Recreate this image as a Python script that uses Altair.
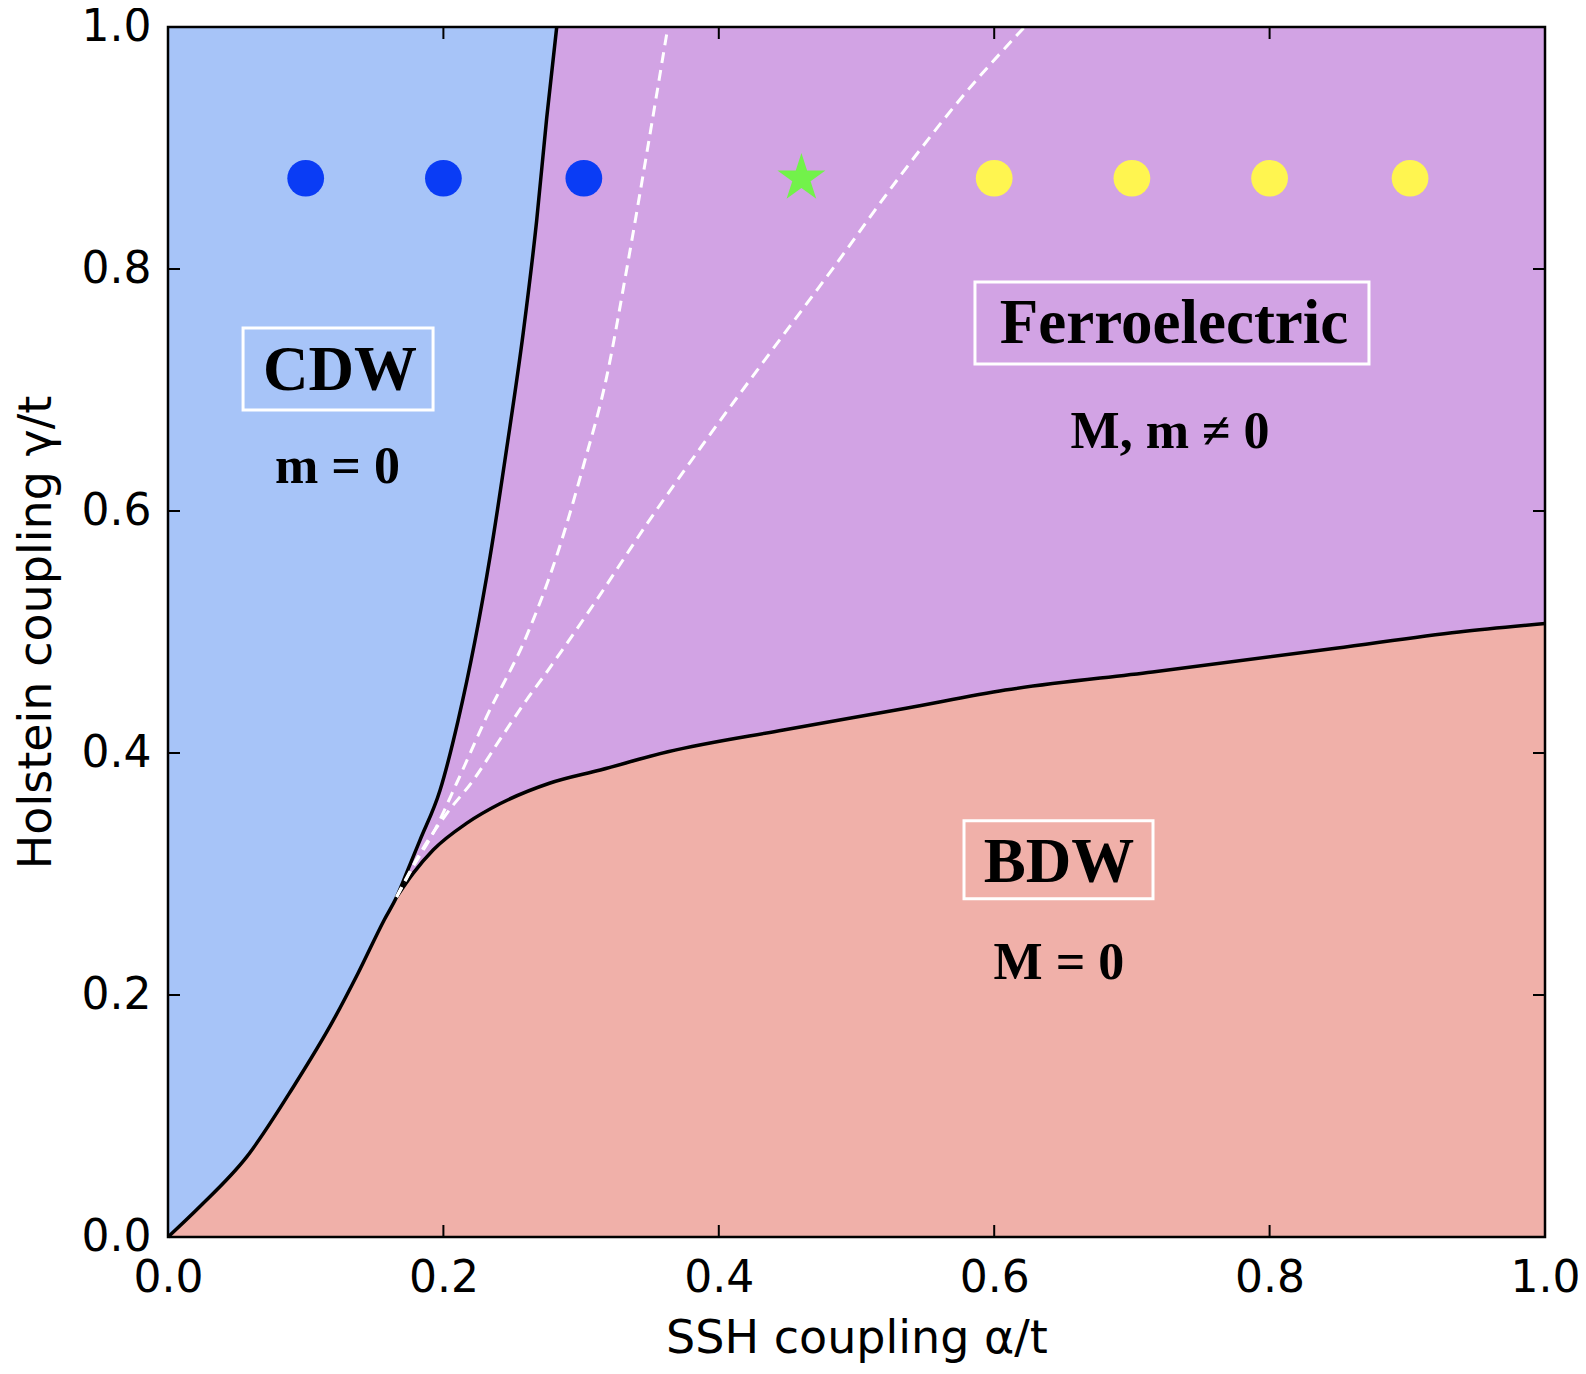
import altair as alt
import pandas as pd

# ---- phase boundaries ----
cdw_bdw_x = [0.0, 0.023, 0.057, 0.091, 0.120, 0.138, 0.157, 0.166]
cdw_bdw_y = [0.0, 0.025, 0.066, 0.124, 0.179, 0.218, 0.262, 0.281]

cdw_fe_x = [0.166, 0.174, 0.183, 0.1975, 0.2107, 0.234, 0.246, 0.258, 0.2677, 0.275, 0.2823]
cdw_fe_y = [0.281, 0.303, 0.328, 0.369, 0.427, 0.563, 0.652, 0.7475, 0.8397, 0.9246, 1.0]

bdw_fe_x = [0.166, 0.178, 0.1927, 0.217, 0.241, 0.277, 0.314, 0.363, 0.447, 0.536, 0.608, 0.715, 0.848, 0.9375, 1.0]
bdw_fe_y = [0.281, 0.3005, 0.320, 0.342, 0.358, 0.375, 0.386, 0.401, 0.419, 0.437, 0.452, 0.467, 0.4865, 0.500, 0.507]

dash1_x = [0.166, 0.178, 0.1927, 0.2096, 0.2314, 0.2605, 0.2823, 0.3016, 0.3186, 0.333, 0.3476, 0.363]
dash1_y = [0.281, 0.306, 0.334, 0.375, 0.430, 0.497, 0.563, 0.637, 0.711, 0.799, 0.895, 1.0]

dash2_x = [0.166, 0.183, 0.2024, 0.2218, 0.241, 0.2605, 0.272, 0.3089, 0.3476, 0.3863, 0.4348, 0.4832, 0.5316, 0.580, 0.622]
dash2_y = [0.281, 0.317, 0.350, 0.3777, 0.411, 0.444, 0.462, 0.5225, 0.589, 0.6516, 0.727, 0.801, 0.8767, 0.9467, 1.0]

# ---- simulation points ----
blue_x = [0.1, 0.2, 0.302]
yellow_x = [0.6, 0.7, 0.8, 0.902]
star_x = [0.46]
points_y = 0.875

ticks = [0.0, 0.2, 0.4, 0.6, 0.8, 1.0]
inner_ticks = [0.2, 0.4, 0.6, 0.8]

# ---- annotations ----
head_text = ["CDW", "Ferroelectric", "BDW"]
head_x = [0.1249, 0.7306, 0.647]
head_y = [0.700, 0.7386, 0.2934]
sub_text = ["m = 0", "M, m \u2260 0", "M = 0"]
sub_x = [0.1231, 0.7277, 0.647]
sub_y = [0.623, 0.6518, 0.2132]
box_x = [0.1235, 0.7291, 0.6467]
box_y = [0.7173, 0.7554, 0.3118]
box_w = [190, 394, 189]
box_h = [82, 82, 78]

W, H = 1377, 1210
C_BLUE = "#a7c4f8"
C_PURPLE = "#d2a3e4"
C_PINK = "#f0b0a9"

xs = alt.Scale(domain=[0, 1], nice=False, zero=False)
ys = alt.Scale(domain=[0, 1], nice=False, zero=False)

x_axis = alt.Axis(values=ticks, format=".1f", ticks=False, domain=False, grid=False,
                  labelFont="DejaVu Sans", labelFontSize=44, labelColor="black",
                  labelPadding=19, labelFlush=False, labelOverlap=False,
                  title="SSH coupling \u03b1/t", titleFont="DejaVu Sans", titleFontSize=46,
                  titleFontWeight="normal", titleColor="black", titlePadding=16)
y_axis = alt.Axis(values=ticks, format=".1f", ticks=False, domain=False, grid=False,
                  labelFont="DejaVu Sans", labelFontSize=44, labelColor="black",
                  labelPadding=17, labelFlush=False, labelOverlap=False,
                  title="Holstein coupling \u03b3/t", titleFont="DejaVu Sans", titleFontSize=46,
                  titleFontWeight="normal", titleColor="black", titlePadding=21)

X = lambda f: alt.X(f, type="quantitative", scale=xs, axis=x_axis)
Y = lambda f: alt.Y(f, type="quantitative", scale=ys, axis=y_axis)

left_df = pd.DataFrame({"x": cdw_bdw_x + cdw_fe_x[1:], "y": cdw_bdw_y + cdw_fe_y[1:]})
left_df["top"] = 1.0
lower_df = pd.DataFrame({"x": cdw_bdw_x + bdw_fe_x[1:], "y": cdw_bdw_y + bdw_fe_y[1:]})
lower_df["bot"] = 0.0

blue_area = alt.Chart(left_df).mark_area(color=C_BLUE, opacity=1, interpolate="monotone").encode(
    x=X("x"), y=Y("y"), y2="top")
pink_area = alt.Chart(lower_df).mark_area(color=C_PINK, opacity=1, interpolate="monotone").encode(
    x=X("x"), y=Y("y"), y2="bot")


def line_df(xv, yv):
    return pd.DataFrame({"x": xv, "y": yv, "i": list(range(len(xv)))})


black_left = alt.Chart(line_df(cdw_bdw_x + cdw_fe_x[1:], cdw_bdw_y + cdw_fe_y[1:])).mark_line(
    color="black", strokeWidth=3.5, interpolate="monotone").encode(x=X("x"), y=Y("y"), order="i:Q")
black_lower = alt.Chart(line_df(bdw_fe_x, bdw_fe_y)).mark_line(
    color="black", strokeWidth=3.5, interpolate="monotone").encode(x=X("x"), y=Y("y"), order="i:Q")
dash1 = alt.Chart(line_df(dash1_x, dash1_y)).mark_line(
    color="white", strokeWidth=3, strokeDash=[11, 7], interpolate="monotone").encode(
    x=X("x"), y=Y("y"), order="i:Q")
dash2 = alt.Chart(line_df(dash2_x, dash2_y)).mark_line(
    color="white", strokeWidth=3, strokeDash=[11, 7], interpolate="monotone").encode(
    x=X("x"), y=Y("y"), order="i:Q")

blue_pts = alt.Chart(pd.DataFrame({"x": blue_x, "y": [points_y] * len(blue_x)})).mark_point(
    shape="circle", filled=True, size=1350, color="#0a3cf5", opacity=1).encode(x=X("x"), y=Y("y"))
yellow_pts = alt.Chart(pd.DataFrame({"x": yellow_x, "y": [points_y] * len(yellow_x)})).mark_point(
    shape="circle", filled=True, size=1350, color="#fff550", opacity=1).encode(x=X("x"), y=Y("y"))
STAR = ("M0,-1L0.2245,-0.309L0.951,-0.309L0.363,0.118L0.588,0.809L0,0.382"
        "L-0.588,0.809L-0.363,0.118L-0.951,-0.309L-0.2245,-0.309Z")
star_pts = alt.Chart(pd.DataFrame({"x": star_x, "y": [points_y]})).mark_point(
    shape=STAR, filled=True, size=2550, color="#72f24a", opacity=1).encode(x=X("x"), y=Y("y"))

boxes = []
for bx, by, bw, bh in zip(box_x, box_y, box_w, box_h):
    r = bh / bw
    path = f"M-1,-{r:.4f}L1,-{r:.4f}L1,{r:.4f}L-1,{r:.4f}Z"
    boxes.append(alt.Chart(pd.DataFrame({"x": [bx], "y": [by]})).mark_point(
        shape=path, filled=False, size=bw * bw, color="white", strokeWidth=3, opacity=1
    ).encode(x=X("x"), y=Y("y")))

heads = alt.Chart(pd.DataFrame({"x": head_x, "y": head_y, "t": head_text})).mark_text(
    font="Liberation Serif", fontWeight="bold", fontSize=63, color="black",
    align="center", baseline="alphabetic").encode(x=X("x"), y=Y("y"), text="t:N")
subs = alt.Chart(pd.DataFrame({"x": sub_x, "y": sub_y, "t": sub_text})).mark_text(
    font="Liberation Serif", fontWeight="bold", fontSize=52, color="black",
    align="center", baseline="alphabetic").encode(x=X("x"), y=Y("y"), text="t:N")

tick_df = pd.DataFrame({"t": inner_ticks})
TL = 12
tick_b = alt.Chart(tick_df).mark_rule(color="black", strokeWidth=2).encode(
    x=X("t"), y=alt.value(H), y2=alt.value(H - TL))
tick_t = alt.Chart(tick_df).mark_rule(color="black", strokeWidth=2).encode(
    x=X("t"), y=alt.value(0), y2=alt.value(TL))
tick_l = alt.Chart(tick_df).mark_rule(color="black", strokeWidth=2).encode(
    y=Y("t"), x=alt.value(0), x2=alt.value(TL))
tick_r = alt.Chart(tick_df).mark_rule(color="black", strokeWidth=2).encode(
    y=Y("t"), x=alt.value(W), x2=alt.value(W - TL))

frame = alt.Chart(pd.DataFrame({"k": [0]})).mark_rect(
    fill=None, stroke="black", strokeWidth=2.5).encode(
    x=alt.value(0), x2=alt.value(W), y=alt.value(0), y2=alt.value(H))

chart = alt.layer(
    blue_area, pink_area, black_left, black_lower, dash1, dash2,
    blue_pts, yellow_pts, star_pts, *boxes, heads, subs,
    tick_b, tick_t, tick_l, tick_r, frame
).properties(
    width=W, height=H,
    padding={"left": 160, "top": 19, "right": 33, "bottom": 129},
    autosize=alt.AutoSizeParams(type="none"),
    background="white",
).configure_view(fill=C_PURPLE, stroke=None)

chart.save("out.html", embed_options={"renderer": "svg", "actions": False})
